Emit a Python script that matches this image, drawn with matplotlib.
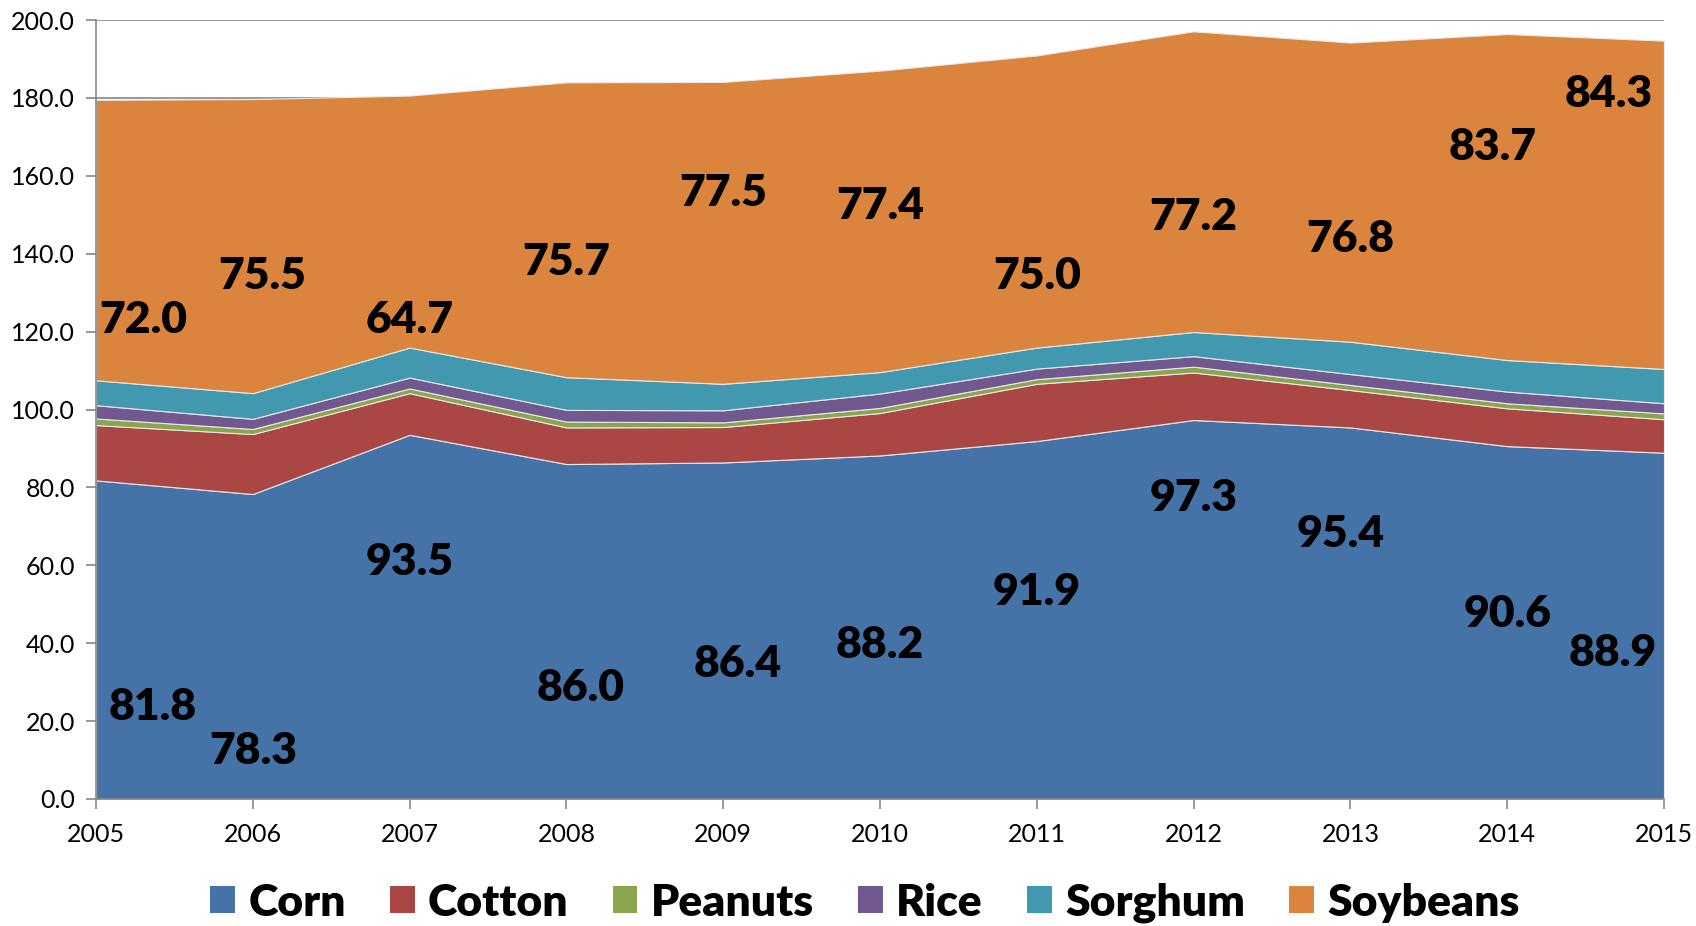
import matplotlib.pyplot as plt
from matplotlib.patches import Patch

years = [2005, 2006, 2007, 2008, 2009, 2010, 2011, 2012, 2013, 2014, 2015]

corn     = [81.8, 78.3, 93.5, 86.0, 86.4, 88.2, 91.9, 97.3, 95.4, 90.6, 88.9]
cotton   = [14.2, 15.4, 10.7,  9.4,  9.1, 10.9, 14.7, 12.2,  9.6,  9.7,  8.6]
peanuts  = [ 1.7,  1.3,  1.2,  1.5,  1.2,  1.3,  1.2,  1.5,  1.3,  1.3,  1.5]
rice     = [ 3.4,  2.6,  2.8,  3.0,  3.1,  3.7,  2.7,  2.7,  2.8,  3.0,  2.6]
sorghum  = [ 6.4,  6.6,  7.7,  8.4,  6.8,  5.5,  5.4,  6.2,  8.3,  8.1,  8.8]
soybeans = [72.0, 75.5, 64.7, 75.7, 77.5, 77.4, 75.0, 77.2, 76.8, 83.7, 84.3]

names = ["Corn", "Cotton", "Peanuts", "Rice", "Sorghum", "Soybeans"]
colors = ["#4572A7", "#AA4643", "#89A54E", "#71588F", "#4198AF", "#DB843D"]

# where the value labels sit (x in years, y in chart units)
corn_lbl_x = [2005.36, 2006.0, 2007.0, 2008.09, 2009.09, 2010.0, 2011.0, 2012.0, 2012.94, 2014.0, 2014.67]
corn_lbl_y = [23.6, 12.2, 60.8, 28.4, 34.7, 39.5, 53.1, 77.2, 68.1, 47.5, 37.5]
soy_lbl_x = [2005.30, 2006.06, 2007.0, 2008.0, 2009.0, 2010.0, 2011.0, 2012.0, 2013.0, 2013.91, 2014.65]
soy_lbl_y = [123.1, 134.2, 123.1, 137.8, 155.6, 152.3, 134.2, 149.5, 143.9, 167.3, 180.9]

plt.rcParams['font.family'] = ['Lato', 'DejaVu Sans']

fig = plt.figure(figsize=(16.96, 9.26), dpi=100)
ax = fig.add_axes([96/1696, 1-799/926, (1664-96)/1696, (799-20)/926])

ax.stackplot(years, corn, cotton, peanuts, rice, sorghum, soybeans,
             colors=colors, edgecolor="#e8e8e8", linewidth=0.8, zorder=2)

ax.set_xlim(2005, 2015)
ax.set_ylim(0, 200)
ax.set_yticks(range(0, 201, 20))
ax.set_yticklabels([f"{v:.1f}" for v in range(0, 201, 20)])
ax.set_xticks(years)
ax.set_xticklabels([str(y) for y in years])
ax.yaxis.grid(True, color="#868686", linewidth=1.2, zorder=0)
ax.set_axisbelow(True)

for s in ["top", "right"]:
    ax.spines[s].set_visible(False)
for s in ["left", "bottom"]:
    ax.spines[s].set_color("#868686")
    ax.spines[s].set_linewidth(1.2)
ax.tick_params(axis="both", colors="#868686", length=7, width=1.2, labelsize=18,
               labelcolor="black")
ax.tick_params(axis="x", pad=10)
ax.tick_params(axis="y", pad=8)

for x, y, v in zip(corn_lbl_x, corn_lbl_y, corn):
    ax.text(x, y, f"{v:.1f}", ha="center", va="center", fontsize=32,
            fontweight="heavy", color="black", zorder=5)
for x, y, v in zip(soy_lbl_x, soy_lbl_y, soybeans):
    ax.text(x, y, f"{v:.1f}", ha="center", va="center", fontsize=32,
            fontweight="heavy", color="black", zorder=5)

handles = [Patch(facecolor=c, edgecolor="none") for c in colors]
fig.legend(handles, names, loc="lower center", bbox_to_anchor=(0.51, -0.04), ncol=6,
           frameon=False, prop={"size": 32, "weight": "heavy"},
           handlelength=0.55, handleheight=0.55, handletextpad=0.3, columnspacing=1.0)

fig.savefig("out.png", dpi=100)
